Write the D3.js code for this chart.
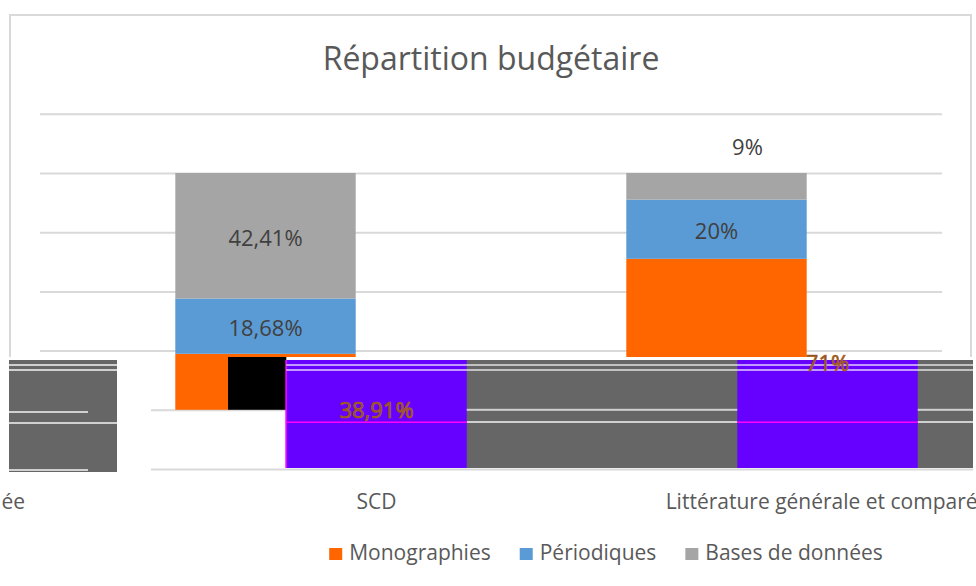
<!DOCTYPE html>
<html>
<head>
<meta charset="utf-8">
<script src="https://cdn.jsdelivr.net/npm/d3@7"></script>
<style>
  body { margin: 0; background: #fff; }
  svg { display: block; font-family: "Open Sans", sans-serif; }
</style>
</head>
<body>
<div id="chart"></div>
<script>
// chart data
const categories = ["Économie appliquée", "SCD", "Littérature générale et comparée"];
const monographies = [null, 38.91, 71];
const periodiques = [null, 18.68, 20];
const basesDeDonnees = [null, 42.41, 9];
const seriesNames = ["Monographies", "Périodiques", "Bases de données"];
const seriesColors = ["#ff6600", "#5b9bd5", "#a5a5a5"];
const yTicks = [0, 20, 40, 60, 80, 100, 120];
const chartTitle = "Répartition budgétaire";

class BudgetChart {

  constructor(_config) {
    this.config = {
      parentElement: _config.parentElement,
      width: 976,
      height: 586,
      plotLeft: 40,
      plotRight: 942,
      plotTop: 113.8,
      plotBottom: 469,
      shift: 111,        // lower part of the picture is offset to the right
      cut: 357,          // where the upper plot stops
      band: { top: 360, bottom: 468, right: 973, gapLeft: 117 },
      leftBlock: { x0: 9, x1: 117, y0: 360, y1: 472, short: 88 }
    };
    this.initVis();
  }

  initVis() {
    let vis = this;
    let c = vis.config;

    vis.svg = d3.select(c.parentElement).append("svg")
        .attr("width", c.width)
        .attr("height", c.height);

    let defs = vis.svg.append("defs");
    defs.append("clipPath").attr("id", "clip-top")
      .append("rect").attr("x", 0).attr("y", 0).attr("width", c.width).attr("height", c.cut);
    defs.append("clipPath").attr("id", "clip-band")
      .append("rect").attr("x", c.band.gapLeft - c.shift).attr("y", c.cut)
        .attr("width", c.band.right - c.band.gapLeft).attr("height", 115);

    let n = categories.length;
    let step = (c.plotRight - c.plotLeft) / (n - 1);
    vis.xScale = d3.scaleBand()
        .domain(categories)
        .range([c.plotLeft - step, c.plotRight])
        .paddingInner(0.6)
        .paddingOuter(0.3);

    vis.yScale = d3.scaleLinear()
        .domain([0, 120])
        .range([c.plotBottom, c.plotTop]);

    vis.rows = categories.map((cat, i) => ({
      cat: cat,
      "Monographies": monographies[i],
      "Périodiques": periodiques[i],
      "Bases de données": basesDeDonnees[i]
    }));
    vis.stacked = d3.stack().keys(seriesNames)(vis.rows);

    vis.updateVis();
  }

  gridlines(g) {
    let vis = this;
    let c = vis.config;
    let axis = d3.axisLeft(vis.yScale)
        .tickValues(yTicks)
        .tickSize(-(c.plotRight - c.plotLeft))
        .tickFormat("");
    g.attr("transform", "translate(" + c.plotLeft + ",0)").call(axis);
    g.select(".domain").remove();
    g.selectAll("line").attr("stroke", "#d9d9d9").attr("stroke-width", 2);
  }

  updateVis() {
    let vis = this;
    let c = vis.config;
    let bw = vis.xScale.bandwidth();
    let fmt = v => String(v).replace(".", ",") + "%";

    // frame
    vis.svg.append("path")
        .attr("d", "M10," + c.cut + "V15H971V" + c.cut)
        .attr("fill", "none").attr("stroke", "#d9d9d9").attr("stroke-width", 2);

    vis.svg.append("text")
        .attr("x", (c.plotLeft + c.plotRight) / 2).attr("y", 70)
        .attr("text-anchor", "middle")
        .attr("font-size", 32).attr("fill", "#595959")
        .text(chartTitle);

    // upper plot
    let top = vis.svg.append("g").attr("clip-path", "url(#clip-top)");
    top.append("g").call(g => vis.gridlines(g));

    let layers = top.selectAll(".layer")
        .data(vis.stacked)
      .join("g")
        .attr("class", "layer")
        .attr("fill", (d, i) => seriesColors[i]);

    layers.selectAll("rect")
        .data(d => d.filter(p => p.data[d.key] != null))
      .join("rect")
        .attr("x", d => vis.xScale(d.data.cat))
        .attr("width", bw)
        .attr("y", d => vis.yScale(d[1]))
        .attr("height", d => vis.yScale(d[0]) - vis.yScale(d[1]));

    // data labels (periodiques and bases)
    let labelNudge = { "Bases de données|Littérature générale et comparée": [31, -41] };
    vis.stacked.slice(1).forEach(layer => {
      layer.filter(p => p.data[layer.key] != null).forEach(p => {
        let nudge = labelNudge[layer.key + "|" + p.data.cat] || [0, 0];
        top.append("text")
            .attr("x", vis.xScale(p.data.cat) + bw / 2 + nudge[0])
            .attr("y", (vis.yScale(p[0]) + vis.yScale(p[1])) / 2 + nudge[1])
            .attr("dy", "0.45em")
            .attr("text-anchor", "middle")
            .attr("font-size", 22).attr("fill", "#404040")
            .text(fmt(p.data[layer.key]));
      });
    });

    // lower shifted band
    let shifted = vis.svg.append("g")
        .attr("transform", "translate(" + c.shift + ",0)");
    shifted.append("g").attr("clip-path", "url(#clip-band)")
      .append("g").call(g => vis.gridlines(g));

    let firstBar = vis.xScale(categories[1]);
    let y20 = vis.yScale(20);

    vis.svg.append("rect")
        .attr("x", firstBar).attr("y", c.cut)
        .attr("width", c.band.gapLeft + c.shift - firstBar).attr("height", y20 - c.cut)
        .attr("fill", seriesColors[0]);
    vis.svg.append("rect")
        .attr("x", c.band.gapLeft + c.shift).attr("y", c.cut)
        .attr("width", firstBar - c.band.gapLeft).attr("height", y20 - c.cut)
        .attr("fill", "#000");

    let bandX0 = firstBar + c.shift;
    vis.svg.append("rect")
        .attr("x", bandX0).attr("y", c.band.top)
        .attr("width", c.band.right - bandX0).attr("height", c.band.bottom - c.band.top)
        .attr("fill", "#666");
    [y20, 422].forEach(y => {
      vis.svg.append("rect")
          .attr("x", bandX0).attr("y", y - 1)
          .attr("width", c.band.right - bandX0).attr("height", 2)
          .attr("fill", "#d0d0d0");
    });

    let withData = categories.filter((cat, i) => monographies[i] != null);
    vis.svg.selectAll(".ghost")
        .data(withData)
      .join("rect")
        .attr("class", "ghost")
        .attr("x", d => vis.xScale(d) + c.shift)
        .attr("y", c.band.top)
        .attr("width", bw)
        .attr("height", c.band.bottom - c.band.top)
        .attr("fill", "#6600ff");
    vis.svg.selectAll(".ghost-line")
        .data(withData)
      .join("rect")
        .attr("class", "ghost-line")
        .attr("x", d => vis.xScale(d) + c.shift)
        .attr("y", 421.5)
        .attr("width", bw).attr("height", 1.5)
        .attr("fill", "#ff00ff");
    vis.svg.append("rect")
        .attr("x", bandX0 - 1).attr("y", c.band.top)
        .attr("width", 1.5).attr("height", c.band.bottom - c.band.top)
        .attr("fill", "#ff00ff");

    // left block
    let lb = c.leftBlock;
    vis.svg.append("rect")
        .attr("x", lb.x0).attr("y", lb.y0)
        .attr("width", lb.x1 - lb.x0).attr("height", lb.y1 - lb.y0)
        .attr("fill", "#666");
    [[412, lb.short], [423, lb.x1], [470, lb.short]].forEach(([y, x1]) => {
      vis.svg.append("rect")
          .attr("x", lb.x0).attr("y", y - 1)
          .attr("width", x1 - lb.x0).attr("height", 2)
          .attr("fill", "#d0d0d0");
    });
    [365, 370].forEach(y => {
      vis.svg.append("rect")
          .attr("x", lb.x0).attr("y", y - 1)
          .attr("width", lb.x1 - lb.x0).attr("height", 2)
          .attr("fill", "#d0d0d0");
      vis.svg.append("rect")
          .attr("x", bandX0).attr("y", y - 1)
          .attr("width", c.band.right - bandX0).attr("height", 2)
          .attr("fill", "rgba(255,255,255,0.6)");
    });

    // monographies labels (only visible inside the band)
    vis.stacked[0].filter(p => p.data.Monographies != null).forEach(p => {
      vis.svg.append("text")
          .attr("x", vis.xScale(p.data.cat) + bw / 2 + c.shift)
          .attr("y", (vis.yScale(p[0]) + vis.yScale(p[1])) / 2)
          .attr("dy", "0.3em")
          .attr("text-anchor", "middle")
          .attr("font-size", 22)
          .attr("fill", "#7a5226")
          .attr("stroke", "#b8621c").attr("stroke-width", 0.7)
          .text(fmt(p.data.Monographies));
    });

    // category labels
    vis.svg.selectAll(".cat-label")
        .data(categories)
      .join("text")
        .attr("class", "cat-label")
        .attr("x", d => vis.xScale(d) + bw / 2 + c.shift)
        .attr("y", 509)
        .attr("text-anchor", "middle")
        .attr("font-size", 21).attr("fill", "#595959")
        .text(d => d);

    // legend, centred under the shifted plot
    let gap = 29;
    let legend = vis.svg.append("g");
    let xPos = 0;
    seriesNames.forEach((name, i) => {
      let item = legend.append("g").attr("transform", "translate(" + xPos + ",0)");
      item.append("rect")
          .attr("x", 0).attr("y", 548)
          .attr("width", 13).attr("height", 12)
          .attr("fill", seriesColors[i]);
      let t = item.append("text")
          .attr("x", 20).attr("y", 560)
          .attr("font-size", 21).attr("fill", "#595959")
          .text(name);
      xPos += 20 + t.node().getComputedTextLength() + gap;
    });
    let legendW = xPos - gap;
    let legendCenter = (c.plotLeft + c.plotRight) / 2 + c.shift + 4;
    legend.attr("transform", "translate(" + (legendCenter - legendW / 2) + ",0)");
  }
}

let chart = new BudgetChart({ parentElement: "#chart" });
</script>
</body>
</html>
